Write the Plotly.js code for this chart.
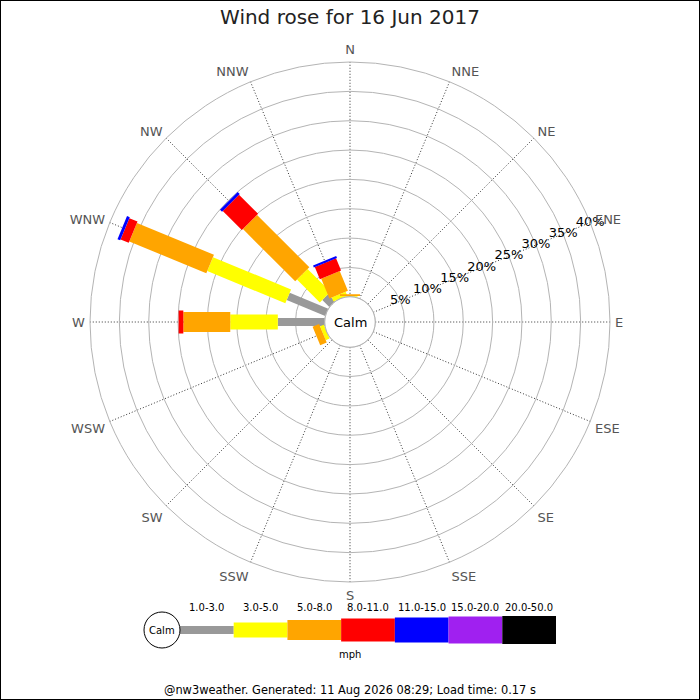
<!DOCTYPE html>
<html>
<head>
<meta charset="utf-8">
<script src="https://cdn.plot.ly/plotly-3.0.1.min.js"></script>
<style>
  html, body {margin: 0; padding: 0; background: #fff;}
  #rose {width: 700px; height: 700px;}
</style>
</head>
<body>
<div id="rose"></div>
<script>
// Compass sectors, clockwise from north
const directions = ['N', 'NNE', 'NE', 'ENE', 'E', 'ESE', 'SE', 'SSE',
                    'S', 'SSW', 'SW', 'WSW', 'W', 'WNW', 'NW', 'NNW'];

// Speed classes (mph) and their colours
const speedBands = ['1.0-3.0', '3.0-5.0', '5.0-8.0', '8.0-11.0', '11.0-15.0', '15.0-20.0', '20.0-50.0'];
const bandColors = ['#999999', '#ffff00', '#ffa500', '#ff0000', '#0000ff', '#a020f0', '#000000'];

// Percent of day in each sector, one array per speed class
const pct1to3   = [0,    0, 0, 0, 0, 0, 0, 0, 0, 0, 0, 0,   8.0, 7.1,  1.7,  0];
const pct3to5   = [0.15, 0, 0, 0, 0, 0, 0, 0, 0, 0, 0, 0.7, 8.1, 14.4, 5.5,  0.75];
const pct5to8   = [0.3,  0, 0, 0, 0, 0, 0, 0, 0, 0, 0, 1.2, 8.0, 14.2, 12.6, 3.65];
const pct8to11  = [0,    0, 0, 0, 0, 0, 0, 0, 0, 0, 0, 0,   0.8, 1.5,  4.6,  2.25];
const pct11to15 = [0,    0, 0, 0, 0, 0, 0, 0, 0, 0, 0, 0,   0,   0.5,  0.5,  0.35];
const pct15to20 = [0,    0, 0, 0, 0, 0, 0, 0, 0, 0, 0, 0,   0,   0,    0,    0];
const pct20to50 = [0,    0, 0, 0, 0, 0, 0, 0, 0, 0, 0, 0,   0,   0,    0,    0];

const radialTicks = [5, 10, 15, 20, 25, 30, 35, 40];

const bandValues = [pct1to3, pct3to5, pct5to8, pct8to11, pct11to15, pct15to20, pct20to50];
const bandWidths = [8, 15, 20, 23, 25, 27, 28]; // px, bars get fatter with speed

const traces = [];

// stacked segments: each one is a thick radial line from running total to new total
const running = directions.map(() => 0);
bandValues.forEach((vals, b) => {
    const r = [], theta = [];
    vals.forEach((v, i) => {
        if (v > 0) {
            r.push(running[i], running[i] + v, null);
            theta.push(directions[i], directions[i], directions[i]);
            running[i] += v;
        }
    });
    traces.push({
        type: 'scatterpolar', mode: 'lines', r: r, theta: theta,
        connectgaps: false, hoverinfo: 'skip', showlegend: false,
        line: {color: bandColors[b], width: bandWidths[b]}
    });
});

// calm circle outline at the hole edge
const calmTheta = [];
for (let a = 0; a <= 360; a += 5) calmTheta.push(a);
traces.unshift({
    type: 'scatterpolar', mode: 'lines', subplot: 'polar2',
    r: calmTheta.map(() => 0), theta: calmTheta,
    hoverinfo: 'skip', showlegend: false,
    line: {color: '#b4b4b4', width: 1}
});

// percent labels along the ENE spoke
traces.push({
    type: 'scatterpolar', mode: 'text',
    r: radialTicks, theta: radialTicks.map(() => 'ENE'),
    text: radialTicks.map(t => t + '%'),
    textposition: 'middle center',
    textfont: {family: 'DejaVu Sans', size: 13, color: '#000'},
    hoverinfo: 'skip', showlegend: false
});

// legend strip
speedBands.forEach((label, b) => {
    traces.push({
        type: 'scatter', mode: 'lines', xaxis: 'x', yaxis: 'y',
        x: [b, b + 1], y: [0, 0], hoverinfo: 'skip', showlegend: false,
        line: {color: bandColors[b], width: bandWidths[b]}
    });
});

const W = 700, H = 700;
const px = x => x / W;
const py = y => 1 - y / H;

const polarDomain = {x: [px(90), px(610)], y: [py(582), py(62)]};

function note(text, x, y, size, xref) {
    return {
        text: text, xref: xref || 'paper', yref: 'paper', x: x, y: y,
        xanchor: 'center', yanchor: 'middle', showarrow: false,
        font: {family: 'DejaVu Sans', size: size, color: '#000'}
    };
}

const layout = {
    width: W, height: H,
    margin: {t: 0, l: 0, r: 0, b: 0},
    paper_bgcolor: '#fff',
    font: {family: 'DejaVu Sans', color: '#000'},
    title: {
        text: 'Wind rose for 16 Jun 2017',
        x: 0.5, xanchor: 'center', y: py(17), yanchor: 'middle',
        font: {family: 'DejaVu Sans', size: 20, color: '#222'}
    },
    polar: {
        domain: polarDomain,
        bgcolor: '#fff',
        hole: 0.097,
        radialaxis: {
            range: [0, 40], tick0: 0, dtick: 5,
            showline: false, showticklabels: false, ticks: '',
            gridcolor: '#b4b4b4', gridwidth: 1
        },
        angularaxis: {
            type: 'category', categoryarray: directions,
            rotation: 90, direction: 'clockwise',
            showline: true, linecolor: '#b4b4b4', linewidth: 1,
            gridcolor: '#333', griddash: '1px,2px', gridwidth: 1,
            ticks: 'outside', ticklen: 2, tickcolor: 'rgba(0,0,0,0)',
            tickfont: {family: 'DejaVu Sans', size: 13, color: '#555'}
        }
    },
    polar2: {
        domain: polarDomain,
        bgcolor: 'rgba(0,0,0,0)',
        hole: 0.097,
        radialaxis: {range: [0, 40], visible: false},
        angularaxis: {visible: false, rotation: 90, direction: 'clockwise'}
    },
    xaxis: {domain: [px(180), px(556)], range: [0, 7], visible: false, fixedrange: true},
    yaxis: {domain: [py(650), py(610)], range: [-1, 1], visible: false, fixedrange: true},
    shapes: [
        {type: 'rect', xref: 'paper', yref: 'paper', x0: 0, x1: 1, y0: 0, y1: 1,
         line: {color: '#000', width: 2}},
        {type: 'circle', xref: 'paper', yref: 'paper',
         x0: px(144), x1: px(180), y0: py(648), y1: py(612),
         line: {color: '#000', width: 1}, fillcolor: '#fff'}
    ],
    annotations: [
        note('Calm', 0.5, py(322), 13),
        note('Calm', px(162), py(630), 10),
        note('mph', px(350), py(654), 10),
        note('@nw3weather. Generated: 11 Aug 2026 08:29; Load time: 0.17 s', 0.5, py(690), 11.4)
    ].concat(speedBands.map((label, b) => note(label, b + 0.5, py(607), 10, 'x')))
};

Plotly.newPlot('rose', traces, layout, {staticPlot: true, displayModeBar: false});
</script>
</body>
</html>
